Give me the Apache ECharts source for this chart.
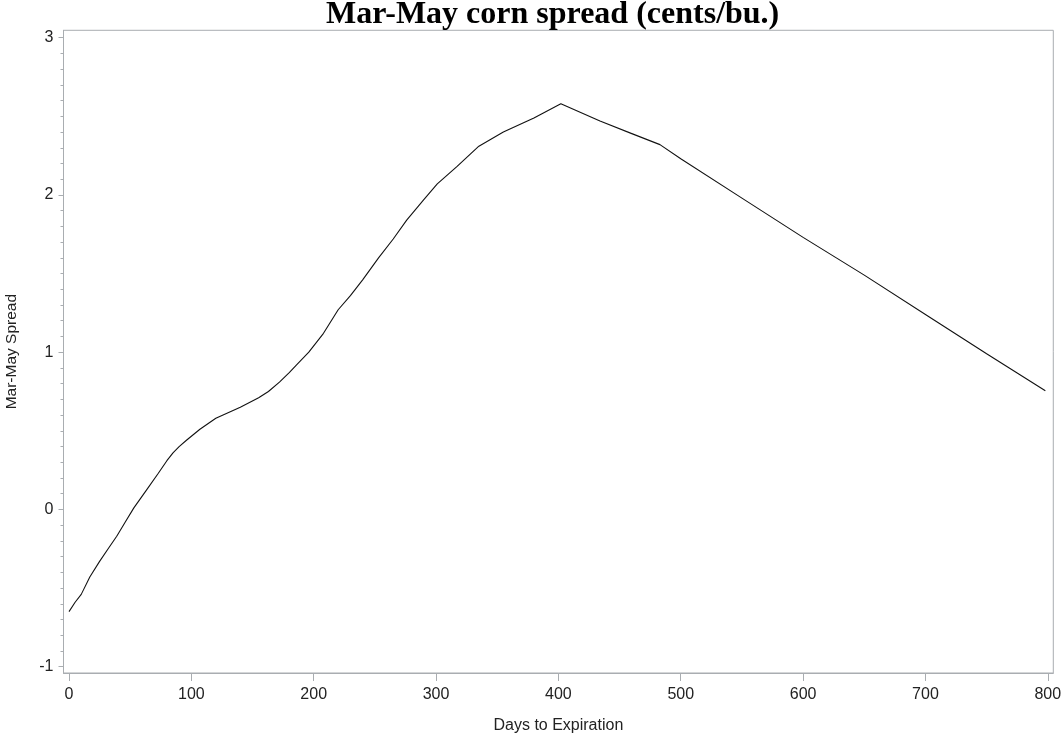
<!DOCTYPE html>
<html>
<head>
<meta charset="utf-8">
<script src="https://cdn.jsdelivr.net/npm/echarts@6/dist/echarts.min.js"></script>
<style>
html,body{margin:0;padding:0;background:#fff;}
#chart{width:1063px;height:738px;}
</style>
</head>
<body>
<div id="chart"></div>
<script>
// Days to expiration (x) and Mar-May spread (y)
const days = [0,5,10,17,25,32,39,46,53,63,73,80,85,90,96,107,120,140,155,163,172,180,186,196,208,220,230,240,253,265,276,290,301,317,335,355,380,402,434,460,483,500,550,600,650,700,750,798];
const spread = [-0.65,-0.59,-0.54,-0.43,-0.33,-0.25,-0.17,-0.08,0.01,0.12,0.23,0.31,0.36,0.40,0.44,0.51,0.58,0.65,0.71,0.75,0.81,0.87,0.92,1.00,1.12,1.27,1.36,1.46,1.60,1.72,1.84,1.97,2.07,2.18,2.31,2.40,2.49,2.58,2.47,2.39,2.32,2.23,1.98,1.73,1.49,1.24,0.99,0.755];
const xTicks = [0,100,200,300,400,500,600,700,800];
const yTicks = [-1,0,1,2,3];
const yMinorTicks = [-0.9,-0.8,-0.7,-0.6,-0.5,-0.4,-0.3,-0.2,-0.1,0.1,0.2,0.3,0.4,0.5,0.6,0.7,0.8,0.9,1.1,1.2,1.3,1.4,1.5,1.6,1.7,1.8,1.9,2.1,2.2,2.3,2.4,2.5,2.6,2.7,2.8,2.9];

const axisColor = '#a9adb1';
const textColor = '#222';
const chart = echarts.init(document.getElementById('chart'));
chart.setOption({
  animation: false,
  backgroundColor: '#fff',
  title: {
    text: 'Mar-May corn spread (cents/bu.)',
    left: 326,
    top: -1,
    padding: 0,
    textStyle: {fontFamily: 'Liberation Serif', fontWeight: 'bold', fontSize: 32, color: '#000'}
  },
  grid: {left: 63.5, right: 9.7, top: 30.3, bottom: 65, outerBoundsMode: 'none', containLabel: false, show: true, borderColor: axisColor, borderWidth: 1, backgroundColor: 'transparent'},
  xAxis: {
    type: 'value', min: -4.5, max: 804.5,
    name: 'Days to Expiration', nameLocation: 'middle', nameGap: 45,
    nameTextStyle: {fontFamily: 'Liberation Sans', fontSize: 16, color: textColor},
    axisLine: {show: true, onZero: false, lineStyle: {color: axisColor}},
    axisTick: {show: true, length: 8, customValues: xTicks, lineStyle: {color: axisColor}},
    axisLabel: {customValues: xTicks, margin: 14, fontFamily: 'Liberation Sans', fontSize: 16, color: textColor},
    splitLine: {show: false}
  },
  yAxis: [{
    type: 'value', min: -1.04, max: 3.047,
    name: 'Mar-May Spread', nameLocation: 'middle', nameGap: 44, nameRotate: 90,
    nameTextStyle: {fontFamily: 'Liberation Sans', fontSize: 15.5, color: textColor},
    axisLine: {show: true, onZero: false, lineStyle: {color: axisColor}},
    axisTick: {show: true, length: 5, customValues: yTicks, lineStyle: {color: axisColor}},
    axisLabel: {customValues: yTicks, margin: 10, fontFamily: 'Liberation Sans', fontSize: 16, color: textColor},
    splitLine: {show: false}
  }, {
    type: 'value', min: -1.04, max: 3.047, position: 'left',
    axisLine: {show: false, onZero: false},
    axisTick: {show: true, length: 3, customValues: yMinorTicks, lineStyle: {color: axisColor}},
    axisLabel: {show: false},
    splitLine: {show: false}
  }],
  series: [{
    type: 'line',
    data: days.map((d, i) => [d, spread[i]]),
    showSymbol: false,
    smooth: false,
    lineStyle: {color: '#111', width: 1.1},
    z: 3
  }]
});
</script>
</body>
</html>
